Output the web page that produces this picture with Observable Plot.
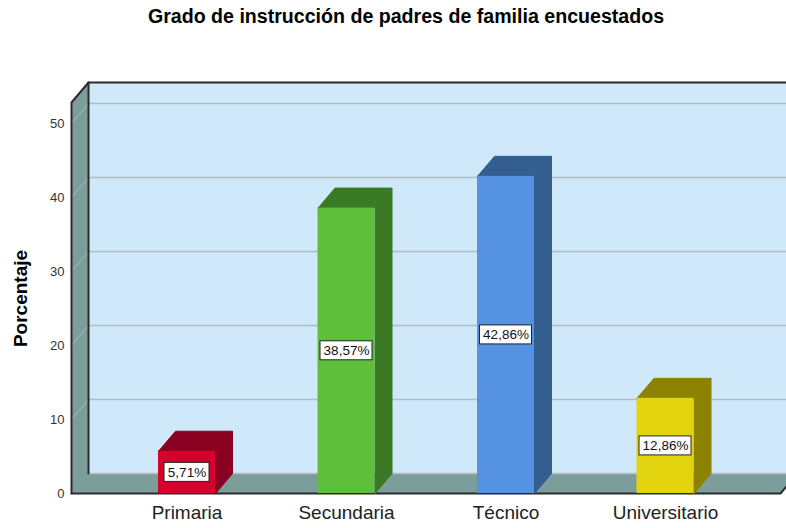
<!DOCTYPE html>
<html><head><meta charset="utf-8">
<script src="https://cdn.jsdelivr.net/npm/d3@7"></script>
<script src="https://cdn.jsdelivr.net/npm/@observablehq/plot@0.6"></script>
<style>
html,body{margin:0;padding:0;background:#fff;overflow:hidden;width:786px;height:528px}
#title{height:35px;padding-top:5px;line-height:36px;font:bold 19.6px "Liberation Sans",Arial,sans-serif;text-align:center;padding-left:26px;width:760px;color:#000;white-space:nowrap}
#chart svg{overflow:hidden;display:block}
</style></head><body>
<div id="title">Grado de instrucción de padres de familia encuestados</div>
<div id="chart"></div>
<script>
// ---- data ----
const categories = ["Primaria", "Secundaria", "Técnico", "Universitario"];
const values = [5.71, 38.57, 42.86, 12.86];
const yTicks = [0, 10, 20, 30, 40, 50];
const frontColors = ["#d5002c", "#5dbf3a", "#5593e2", "#e2d510"];
const sideColors = ["#8a0020", "#3b7a24", "#345d90", "#8c8200"];

// ---- geometry (pixel conversions for the 3D look) ----
const PXX = 159.5, PXY = 7.4;           // px per x unit, px per y unit
const DX = 17 / PXX, DY = 20 / PXY;      // depth offset
const HW = 28.5 / PXX;                   // half bar width
const XL = (71 - 186.5) / PXX;           // front wall x
const XR = (780 - 186.5) / PXX;          // floor front right
const XB = (810 - 186.5) / PXX;          // back wall right (clipped)
const YT = (453 - 62) / PXY;             // front wall top
const fmt = v => v.toFixed(2).replace(".", ",") + "%";
const labels = values.map(fmt);

const faces = [];
const addPoly = (id, pts, fill) => pts.forEach(([x, y]) => faces.push({id, x, y, fill}));
// walls
addPoly("left", [[XL, 0], [XL, YT], [XL + DX, YT + DY], [XL + DX, DY], [XL, 0]], "#7c9e9b");
addPoly("floor", [[XL, 0], [XL + DX, DY], [XR + DX, DY], [XR, 0], [XL, 0]], "#7c9e9b");
// bars (top and side faces)
values.forEach((v, i) => {
  addPoly("side" + i, [[i + HW, 0], [i + HW + DX, DY], [i + HW + DX, v + DY], [i + HW, v], [i + HW, 0]], sideColors[i]);
  addPoly("top" + i, [[i - HW, v], [i - HW + DX, v + DY], [i + HW + DX, v + DY], [i + HW, v], [i - HW, v]], sideColors[i]);
});

const edges = [];
const addEdge = (id, pts) => pts.forEach(([x, y]) => edges.push({id, x, y}));
addEdge("e1", [[XL, 0], [XL, YT], [XL + DX, YT + DY], [XB, YT + DY]]);
addEdge("e2", [[XL + DX, DY], [XL + DX, YT + DY]]);
addEdge("e3", [[XL, 0], [XR, 0], [XR + DX, DY]]);

const gridLinks = yTicks.filter(t => t > 0).map(t => ({t}));

const boxes = labels.map((s, i) => {
  const hw = (7 * s.length + 10) / 2 / PXX, hh = 9.5 / PXY;
  return {x1: i - hw, x2: i + hw, y1: values[i] / 2 - hh, y2: values[i] / 2 + hh};
});

const chart = Plot.plot({
  width: 786,
  height: 488,
  marginLeft: 71,
  marginTop: 63,
  marginBottom: 35,
  marginRight: 0,
  style: {fontFamily: "'Liberation Sans', Arial, sans-serif", fontSize: "13px", background: "white", overflow: "hidden"},
  x: {type: "linear", domain: [0, 3], range: [186.5, 665], axis: null},
  y: {domain: [0, 50], range: [453, 83], axis: null},
  color: {type: "identity"},
  marks: [
    // back wall
    Plot.rect([0], {x1: XL + DX, x2: XB, y1: DY, y2: YT + DY, fill: "#cfe9fa"}),
    // walls + floor
    Plot.line(faces.filter(d => d.id === "left" || d.id === "floor"), {x: "x", y: "y", z: "id", fill: "fill", stroke: "fill", strokeWidth: 1}),
    // gridlines on back wall
    Plot.ruleY(yTicks, {y: t => t + DY, x1: XL + DX, x2: XB, stroke: "#b3bcc1", strokeWidth: 1.5}),
    // gridlines on left wall
    Plot.link(gridLinks, {x1: XL, y1: d => d.t, x2: XL + DX, y2: d => d.t + DY, stroke: "#a8bebc", strokeWidth: 1}),
    // edges
    Plot.line(edges, {x: "x", y: "y", z: "id", stroke: "#2a2a2a", strokeWidth: 2}),
    // bars: side + top faces
    Plot.line(faces.filter(d => d.id.startsWith("side") || d.id.startsWith("top")), {x: "x", y: "y", z: "id", fill: "fill", stroke: "fill", strokeWidth: 1}),
    // bars: front faces
    Plot.rect(values, {x1: (d, i) => i - HW, x2: (d, i) => i + HW, y1: 0, y2: d => d, fill: (d, i) => frontColors[i]}),
    // value label boxes
    Plot.rect(boxes, {x1: "x1", x2: "x2", y1: "y1", y2: "y2", fill: "white", stroke: "#222", strokeWidth: 1}),
    Plot.text(values, {x: (d, i) => i, y: d => d / 2, text: (d, i) => labels[i], fontSize: 13.5, fill: "#111"}),
    // axes
    Plot.axisY({ticks: yTicks, tickSize: 0, tickPadding: 7, anchor: "left", label: null, fontSize: 13, color: "#333"}),
    Plot.axisX({ticks: [0, 1, 2, 3], tickFormat: i => categories[i], tickSize: 0, tickPadding: 12, anchor: "bottom", label: null, fontSize: 19, color: "#222"}),
    Plot.text(["Porcentaje"], {frameAnchor: "left", text: d => d, rotate: -90, textAnchor: "middle", dx: -51, fontSize: 19, fontWeight: "bold", fill: "#000"})
  ]
});
document.getElementById("chart").appendChild(chart);
</script>
</body></html>
